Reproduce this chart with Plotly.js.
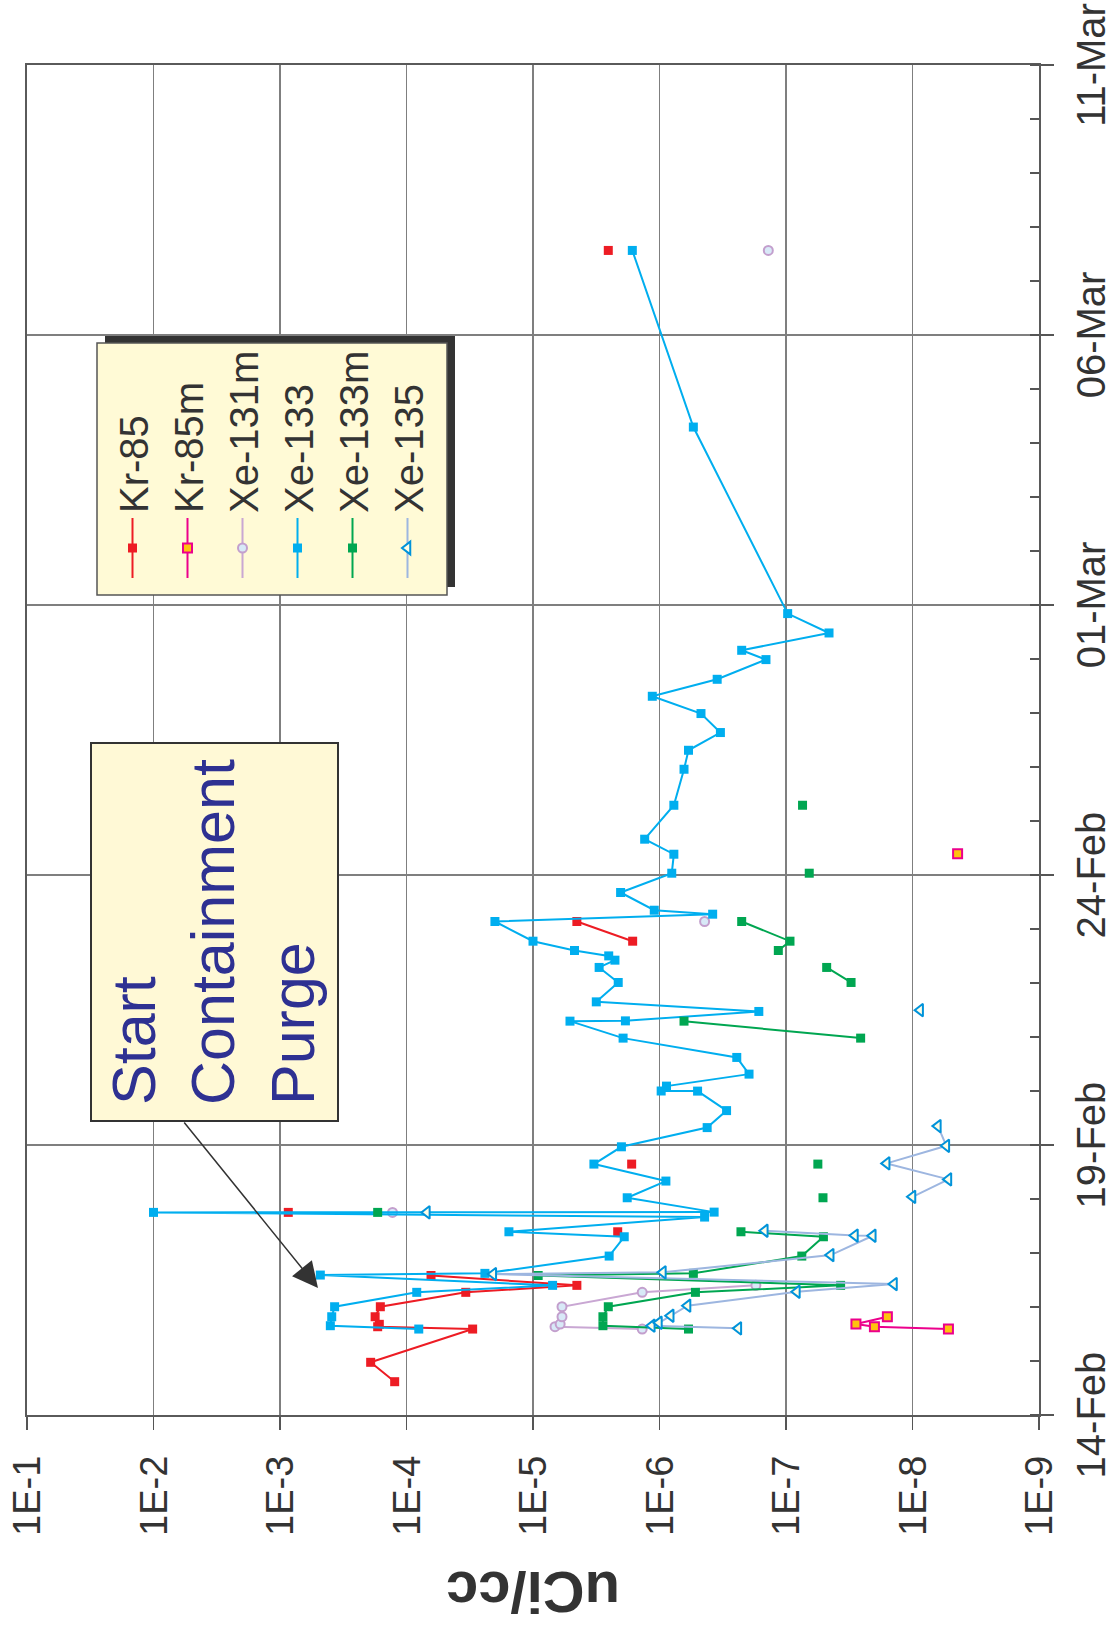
<!DOCTYPE html>
<html>
<head>
<meta charset="utf-8">
<script src="https://cdn.plot.ly/plotly-3.0.1.min.js"></script>
<style>
html,body{margin:0;padding:0;background:#fff;overflow:hidden;width:1115px;height:1629px;}
#wrap{position:absolute;left:0;top:0;width:1629px;height:1115px;transform-origin:0 0;transform:translate(0px,1629px) rotate(-90deg);}
#chart{width:1629px;height:1115px;}
</style>
</head>
<body>
<div id="wrap"><div id="chart"></div></div>
<script>
// ---- data (sample time, uCi/cc); null = gap in the line ----
const seriesNames = ['Kr-85','Kr-85m','Xe-131m','Xe-133','Xe-133m','Xe-135'];

const kr85_t = ['2003-02-14 14:48','2003-02-14 23:25','2003-02-15 14:12','2003-02-15 15:14','2003-02-15 16:18','2003-02-15 19:40','2003-02-16 00:07','2003-02-16 06:31','2003-02-16 09:37','2003-02-16 14:00',null,'2003-02-17 09:26',null,'2003-02-17 18:03',null,'2003-02-18 15:31',null,'2003-02-22 18:35','2003-02-23 03:20',null,'2003-03-07 13:35'];
const kr85_v = [1.24e-4,1.92e-4,3.0e-5,1.69e-4,1.64e-4,1.77e-4,1.61e-4,3.4e-5,4.5e-6,6.4e-5,null,2.14e-6,null,8.6e-4,null,1.66e-6,null,1.63e-6,4.5e-6,null,2.54e-6];

const kr85m_t = ['2003-02-15 14:12','2003-02-15 15:14','2003-02-15 16:26','2003-02-15 19:40',null,'2003-02-24 09:27'];
const kr85m_v = [5.2e-9,2.0e-8,2.8e-8,1.58e-8,null,4.4e-9];

const xe131m_t = ['2003-02-15 14:12','2003-02-15 15:14','2003-02-15 16:26','2003-02-15 19:40','2003-02-16 00:07','2003-02-16 06:31','2003-02-16 09:37',null,'2003-02-17 18:03',null,'2003-02-23 03:20',null,'2003-03-07 13:35'];
const xe131m_v = [1.37e-6,6.7e-6,6.1e-6,5.9e-6,5.9e-6,1.37e-6,1.73e-7,null,1.29e-4,null,4.4e-7,null,1.38e-7];

const xe133_t = ['2003-02-15 14:12','2003-02-15 15:41','2003-02-15 19:40','2003-02-16 00:07','2003-02-16 06:31','2003-02-16 09:37','2003-02-16 14:12','2003-02-16 14:57','2003-02-16 22:38','2003-02-17 07:13','2003-02-17 09:26','2003-02-17 15:58','2003-02-17 18:03','2003-02-17 18:10','2003-02-18 00:33','2003-02-18 07:58','2003-02-18 15:31','2003-02-18 23:12','2003-02-19 07:44','2003-02-19 15:17','2003-02-19 23:57','2003-02-20 00:00','2003-02-20 02:10','2003-02-20 07:30','2003-02-20 14:55','2003-02-20 23:30','2003-02-21 07:03','2003-02-21 07:10','2003-02-21 11:21','2003-02-21 15:37','2003-02-22 00:14','2003-02-22 06:55','2003-02-22 10:09','2003-02-22 12:03','2003-02-22 14:27','2003-02-22 18:35','2003-02-23 03:20','2003-02-23 06:35','2003-02-23 08:21','2003-02-23 16:13','2003-02-24 00:48','2003-02-24 09:14','2003-02-24 15:55','2003-02-25 07:00','2003-02-25 23:00','2003-02-26 07:26','2003-02-26 15:19','2003-02-26 23:45','2003-02-27 07:26','2003-02-27 14:59','2003-02-27 23:44','2003-02-28 03:52','2003-02-28 11:34','2003-02-28 20:11','2003-03-04 07:05','2003-03-07 13:35'];
const xe133_v = [8.0e-5,4.0e-4,3.9e-4,3.7e-4,8.3e-5,7.0e-6,4.8e-4,2.4e-5,2.5e-6,1.9e-6,1.55e-5,4.4e-7,1.0e-2,3.7e-7,1.8e-6,8.9e-7,3.3e-6,2.0e-6,4.2e-7,2.95e-7,5.0e-7,9.7e-7,8.8e-7,1.96e-7,2.45e-7,1.94e-6,5.1e-6,1.86e-6,1.64e-7,3.16e-6,2.12e-6,3.0e-6,2.25e-6,2.52e-6,4.7e-6,1.0e-5,2.0e-5,3.8e-7,1.1e-6,2.03e-6,8.0e-7,7.7e-7,1.31e-6,7.7e-7,6.4e-7,5.9e-7,3.3e-7,4.7e-7,1.14e-6,3.5e-7,1.44e-7,2.24e-7,4.57e-8,9.7e-8,5.4e-7,1.64e-6];

const xe133m_t = ['2003-02-15 14:12','2003-02-15 15:41','2003-02-15 19:40','2003-02-16 00:07','2003-02-16 06:31','2003-02-16 09:37','2003-02-16 14:00','2003-02-16 14:57','2003-02-16 22:38','2003-02-17 07:13','2003-02-17 09:26',null,'2003-02-17 18:03',null,'2003-02-18 00:33',null,'2003-02-18 15:31',null,'2003-02-20 23:30','2003-02-21 07:03',null,'2003-02-22 00:14','2003-02-22 06:55',null,'2003-02-22 14:27','2003-02-22 18:35','2003-02-23 03:20',null,'2003-02-24 00:48',null,'2003-02-25 07:00'];
const xe133m_v = [5.9e-7,2.8e-6,2.8e-6,2.54e-6,5.2e-7,3.7e-8,9.1e-6,5.4e-7,7.5e-8,5.06e-8,2.27e-7,null,1.69e-4,null,5.1e-8,null,5.6e-8,null,2.57e-8,6.4e-7,null,3.06e-8,4.77e-8,null,1.15e-7,9.3e-8,2.24e-7,null,6.55e-8,null,7.4e-8];

const xe135_t = ['2003-02-15 14:30','2003-02-15 15:41','2003-02-15 17:00','2003-02-15 20:07','2003-02-16 00:34','2003-02-16 06:47','2003-02-16 10:12','2003-02-16 14:38','2003-02-16 15:24','2003-02-16 23:05','2003-02-17 07:40','2003-02-17 07:45','2003-02-17 09:53',null,'2003-02-17 18:03',null,'2003-02-18 00:59','2003-02-18 08:43','2003-02-18 15:49','2003-02-18 23:38','2003-02-19 08:24',null,'2003-02-21 11:56'];
const xe135_v = [2.38e-7,1.15e-6,1.01e-6,8.15e-7,6.0e-7,8.2e-8,1.4e-8,2.06e-5,9.4e-7,4.43e-8,2.06e-8,2.85e-8,1.47e-7,null,6.9e-5,null,1.0e-8,5.2e-9,1.6e-8,5.4e-9,6.3e-9,null,8.7e-9];

const dateTicks = ['2003-02-14','2003-02-19','2003-02-24','2003-03-01','2003-03-06','2003-03-11'];
const dateTickText = ['14-Feb','19-Feb','24-Feb','01-Mar','06-Mar','11-Mar'];
const valueTicks = [1e-9,1e-8,1e-7,1e-6,1e-5,1e-4,1e-3,1e-2,1e-1];
const valueTickText = ['1E-9','1E-8','1E-7','1E-6','1E-5','1E-4','1E-3','1E-2','1E-1'];
const dateRange = ['2003-02-14 00:00','2003-03-11 00:00'];
const yTitle = 'uCi/cc';
const noteText = 'Start<br>Containment<br>Purge';

// ---- geometry (local, un-rotated frame 1629 x 1115) ----
const W = 1629, H = 1115;
const M = {l:214, r:65, t:27, b:76};
const PW = W - M.l - M.r, PH = H - M.t - M.b;
const px = x => (x - M.l) / PW;
const py = y => 1 - (y - M.t) / PH;

const FONT = 'Liberation Sans, Arial, Helvetica, sans-serif';
const TXT = '#333333';

function tr(name, t, v, line, marker) {
  return {type:'scatter', mode:'lines+markers', name:name, x:t, y:v,
    connectgaps:false, line:line, marker:marker, cliponaxis:false};
}
const traces = [
  tr(seriesNames[0], kr85_t, kr85_v, {color:'#ED1C24', width:2}, {symbol:'square', size:9, color:'#ED1C24'}),
  tr(seriesNames[1], kr85m_t, kr85m_v, {color:'#EC008C', width:2}, {symbol:'square', size:9, color:'#FFC20E', line:{color:'#EC008C', width:2}}),
  tr(seriesNames[2], xe131m_t, xe131m_v, {color:'#C9A7D3', width:2}, {symbol:'circle', size:9, color:'#D8E9F7', line:{color:'#C39FCD', width:2}}),
  tr(seriesNames[3], xe133_t, xe133_v, {color:'#00AEEF', width:2}, {symbol:'square', size:9, color:'#00AEEF'}),
  tr(seriesNames[4], xe133m_t, xe133m_v, {color:'#00A651', width:2}, {symbol:'square', size:9, color:'#00A651'}),
  tr(seriesNames[5], xe135_t, xe135_v, {color:'#9DB6E0', width:2}, {symbol:'triangle-up', size:11, color:'#FFFDE6', line:{color:'#0093DA', width:2}})
];

const layout = {
  width: W, height: H,
  margin: M,
  paper_bgcolor:'#ffffff', plot_bgcolor:'#ffffff',
  font:{family:FONT, color:TXT},
  showlegend:true,
  xaxis:{
    type:'date', range:dateRange, tickmode:'array', tickvals:dateTicks, ticktext:dateTickText,
    ticks:'outside', ticklen:13, tickwidth:1.3, tickcolor:'#555',
    showgrid:true, gridcolor:'#7f7f7f', gridwidth:1.2,
    showline:true, linecolor:'#5a5a5a', linewidth:2, mirror:true,
    zeroline:false, ticklabelstandoff:3,
    tickfont:{family:FONT, size:40, color:TXT},
    minor:{dtick:86400000, tick0:'2003-02-14', ticks:'inside', ticklen:9, tickwidth:1.3, tickcolor:'#555', showgrid:false}
  },
  yaxis:{
    type:'log', range:[-9,-1], tickvals:valueTicks, ticktext:valueTickText,
    ticks:'outside', ticklen:13, tickwidth:1.3, tickcolor:'#555',
    showgrid:true, gridcolor:'#7f7f7f', gridwidth:1.2,
    showline:true, linecolor:'#5a5a5a', linewidth:2, mirror:true,
    zeroline:false, ticklabelstandoff:18,
    tickfont:{family:FONT, size:38, color:TXT}
  },
  legend:{
    x:px(1046), y:py(100), xanchor:'left', yanchor:'top',
    bgcolor:'rgba(0,0,0,0)', borderwidth:0,
    font:{family:FONT, size:40, color:TXT},
    itemwidth:60, traceorder:'normal', tracegroupgap:0
  },
  shapes:[
    {type:'rect', xref:'paper', yref:'paper', x0:px(1042), x1:px(1293), y0:py(455), y1:py(105), fillcolor:'#333333', line:{width:0}, layer:'above'},
    {type:'rect', xref:'paper', yref:'paper', x0:px(1034), x1:px(1286), y0:py(447), y1:py(97), fillcolor:'#FFFAD6', line:{color:'#555555', width:1.5}, layer:'above'},
    {type:'rect', xref:'paper', yref:'paper', x0:px(508), x1:px(886), y0:py(338), y1:py(91), fillcolor:'#FFF9D6', line:{color:'#333333', width:2}, layer:'above'}
  ],
  annotations:[
    {xref:'paper', yref:'paper', x:px(522), y:py(214), xanchor:'left', yanchor:'middle', align:'left',
     text:noteText, showarrow:false, font:{family:FONT, size:61, color:'#2E3192'}},
    {xref:'paper', yref:'paper', x:px(341), y:py(318), text:'', showarrow:true,
     ax:167, ay:-135, arrowhead:2, arrowsize:3.4, arrowwidth:1.5, arrowcolor:'#333333'},
    {xref:'paper', yref:'paper', x:px(36), y:0.5, xanchor:'center', yanchor:'middle', textangle:-90,
     text:'<b>' + yTitle + '</b>', showarrow:false, font:{family:FONT, size:58, color:TXT}}
  ]
};

Plotly.newPlot('chart', traces, layout, {staticPlot:true, displayModeBar:false});
</script>
</body>
</html>
